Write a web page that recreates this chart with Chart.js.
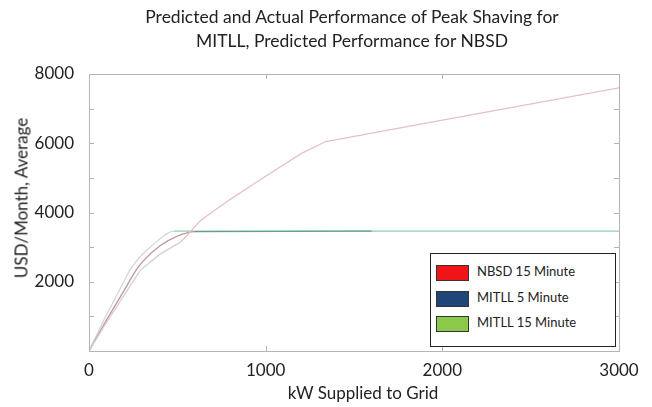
<!DOCTYPE html>
<html>
<head>
<meta charset="utf-8">
<script src="https://cdn.jsdelivr.net/npm/chart.js@4/dist/chart.umd.min.js"></script>
<style>
  html, body { margin: 0; padding: 0; background: #fff; }
  #wrap { position: relative; width: 652px; height: 407px; font-family: Lato, "Open Sans", sans-serif; font-weight: 400; color: #222; }
  canvas { position: absolute; left: 0; top: 0; }
  .title { position: absolute; left: 92px; width: 520px; text-align: center; font-size: 17.5px; line-height: 24px; top: 5px; white-space: nowrap; }
  .xtitle { position: absolute; left: 263px; width: 200px; text-align: center; font-size: 17px; top: 382px; }
  .ytitle { position: absolute; left: 21px; top: 198px; font-size: 17px; white-space: nowrap; transform: translate(-50%, -50%) rotate(-90deg); }
  .legend { position: absolute; left: 430px; top: 253px; width: 186px; height: 94px; border: 1.5px solid #222; background: #fff; box-sizing: border-box; }
  .item { position: absolute; left: 5px; height: 16px; font-size: 13px; }
  .sw { position: absolute; left: 0; top: 0; width: 31px; height: 14px; border: 1px solid #333; }
  .lb { position: absolute; left: 41px; top: -2px; white-space: nowrap; }
</style>
</head>
<body>
<div id="wrap">
  <canvas id="c" width="652" height="407"></canvas>
  <div class="title" id="title"></div>
  <div class="xtitle" id="xtitle"></div>
  <div class="ytitle" id="ytitle"></div>
  <div class="legend" id="legend"></div>
</div>
<script>
// ---- data ----
const titleLines = ["Predicted and Actual Performance of Peak Shaving for", "MITLL, Predicted Performance for NBSD"];
const xAxisTitle = "kW Supplied to Grid";
const yAxisTitle = "USD/Month, Average";
const seriesNames = ["NBSD 15 Minute", "MITLL 5 Minute", "MITLL 15 Minute"];
const legendColors = ["#f01418", "#1f4679", "#8cc84a"];

const nbsdKW  = [0, 100, 200, 290, 400, 520, 576, 633, 800, 934, 1200, 1340, 2000, 3000];
const nbsdUSD = [0, 830, 1620, 2330, 2790, 3150, 3460, 3780, 4380, 4830, 5700, 6050, 6670, 7600];

const mitll5KW  = [0, 100, 200, 262, 300, 400, 500, 600, 1600];
const mitll5USD = [0, 900, 1760, 2300, 2560, 3030, 3320, 3450, 3460];

const mitll15KW  = [0, 100, 200, 233, 300, 370, 430, 480, 3000];
const mitll15USD = [0, 1050, 2030, 2350, 2780, 3100, 3350, 3460, 3460];

const xTicks = [0, 1000, 2000, 3000];
const yTickLabels = [2000, 4000, 6000, 8000];

// ---- text overlays ----
document.getElementById('title').innerHTML = titleLines.join('<br>');
document.getElementById('xtitle').textContent = xAxisTitle;
document.getElementById('ytitle').textContent = yAxisTitle;
const leg = document.getElementById('legend');
seriesNames.forEach((n, i) => {
  const it = document.createElement('div');
  it.className = 'item';
  it.style.top = (11 + i * 25.5) + 'px';
  it.innerHTML = '<div class="sw" style="background:' + legendColors[i] + '"></div><div class="lb"></div>';
  it.querySelector('.lb').textContent = n;
  leg.appendChild(it);
});

function pts(xs, ys) { return xs.map((x, i) => ({ x: x, y: ys[i] })); }

const frame = {
  id: 'frame',
  afterDraw(chart) {
    const { ctx, chartArea: a, scales } = chart;
    ctx.save();
    ctx.strokeStyle = '#b4b4b4';
    ctx.lineWidth = 1;
    ctx.strokeRect(a.left + 0.5, a.top + 0.5, a.right - a.left, a.bottom - a.top);
    const t = 5;
    ctx.beginPath();
    for (let v = 1000; v < 8000; v += 1000) {
      const y = Math.round(scales.y.getPixelForValue(v)) + 0.5;
      ctx.moveTo(a.left, y); ctx.lineTo(a.left + t, y);
      ctx.moveTo(a.right, y); ctx.lineTo(a.right - t, y);
    }
    for (let v = 1000; v < 3000; v += 1000) {
      const x = Math.round(scales.x.getPixelForValue(v)) + 0.5;
      ctx.moveTo(x, a.top); ctx.lineTo(x, a.top + t);
      ctx.moveTo(x, a.bottom); ctx.lineTo(x, a.bottom - t);
    }
    ctx.stroke();
    ctx.restore();
  }
};

new Chart(document.getElementById('c'), {
  type: 'line',
  data: {
    datasets: [
      { label: seriesNames[0], data: pts(nbsdKW, nbsdUSD),
        segment: { borderColor: ctx => (ctx.p0.parsed.x < 500 ? 'rgb(212,208,210)' : 'rgb(228,192,198)') },
        borderColor: 'rgb(228,192,198)', borderWidth: 1.3, pointRadius: 0, tension: 0 },
      { label: seriesNames[1], data: pts(mitll5KW, mitll5USD),
        segment: { borderColor: ctx => (ctx.p0.parsed.x >= 600 ? 'rgb(100,160,142)' : 'rgb(190,150,158)') },
        borderColor: 'rgb(190,150,158)', borderWidth: 1.3, pointRadius: 0, cubicInterpolationMode: 'monotone' },
      { label: seriesNames[2], data: pts(mitll15KW, mitll15USD),
        segment: { borderColor: ctx => (ctx.p0.parsed.x >= 480 ? 'rgb(150,205,180)' : 'rgb(214,214,214)') },
        borderColor: 'rgb(214,214,214)', borderWidth: 1.3, pointRadius: 0, cubicInterpolationMode: 'monotone' }
    ]
  },
  options: {
    responsive: false,
    animation: false,
    events: [],
    layout: { padding: { top: 74, right: 33, left: 0, bottom: 24 } },
    plugins: { legend: { display: false }, title: { display: false }, tooltip: { enabled: false } },
    scales: {
      x: {
        type: 'linear', min: 0, max: 3000,
        afterFit(s) { s.height = 32; },
        afterBuildTicks(s) { s.ticks = xTicks.map(v => ({ value: v })); },
        grid: { display: false },
        border: { display: false },
        ticks: { color: '#222', font: { family: 'Lato', size: 17 }, padding: 1, maxRotation: 0, callback: v => String(v) }
      },
      y: {
        type: 'linear', min: 0, max: 8000,
        afterFit(s) { s.width = 89; },
        afterBuildTicks(s) { s.ticks = yTickLabels.map(v => ({ value: v })); },
        grid: { display: false },
        border: { display: false },
        ticks: { color: '#222', font: { family: 'Lato', size: 17 }, padding: 7, callback: v => String(v) }
      }
    }
  },
  plugins: [frame]
});
</script>
</body>
</html>
